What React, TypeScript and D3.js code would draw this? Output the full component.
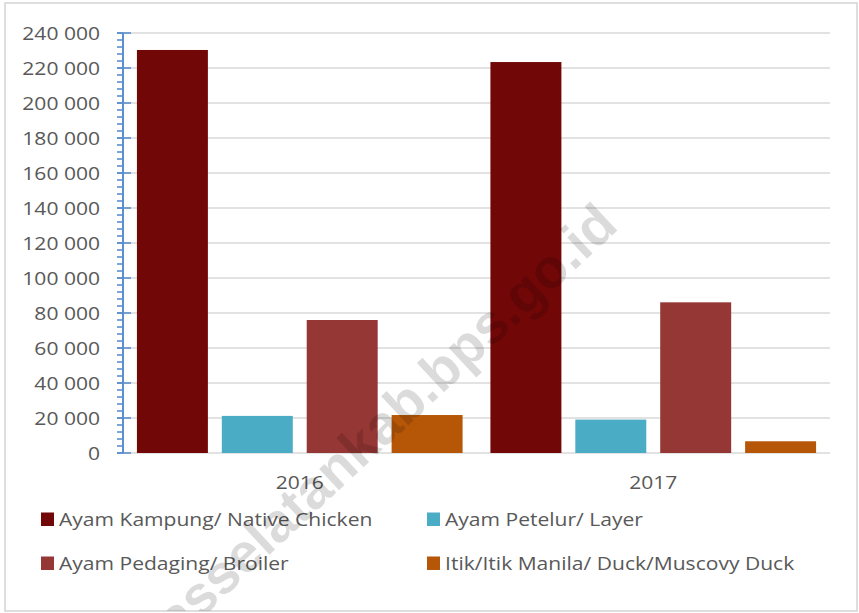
import React from "react";
import * as d3 from "d3";

const years = ["2016", "2017"];
const seriesNames = [
  "Ayam Kampung/ Native Chicken",
  "Ayam Petelur/ Layer",
  "Ayam Pedaging/ Broiler",
  "Itik/Itik Manila/ Duck/Muscovy Duck",
];
const kampung = [230300, 223400];
const petelur = [21200, 19100];
const pedaging = [76000, 86100];
const itik = [21700, 6700];
const seriesColors = ["#720707", "#4BACC6", "#953735", "#B65708"];
const yTickValues = [0, 20000, 40000, 60000, 80000, 100000, 120000, 140000, 160000, 180000, 200000, 220000, 240000];
const watermark = "https://niasselatankab.bps.go.id";

const W = 859;
const H = 613;
const FONT = "'Open Sans', sans-serif";
const FS = 18;
const SX = 1.17;

export default function App() {
  const seriesValues = [kampung, petelur, pedaging, itik];
  const plot = { left: 123, right: 830, top: 33, bottom: 453 };
  const y = d3.scaleLinear().domain([0, 240000]).range([plot.bottom, plot.top]);
  const x0 = d3.scaleBand<string>().domain(years).range([plot.left, plot.right]).padding(0);
  const x1 = d3
    .scaleBand<number>()
    .domain(d3.range(seriesNames.length))
    .range([0, x0.bandwidth()])
    .padding(0.164);
  const loc = d3.formatLocale({ decimal: ",", thousands: " ", grouping: [3], currency: ["", ""] });
  const fmt = loc.format(",");
  const minorTicks = d3.range(0, 240001, 4000);

  const T = (p: { x: number; y: number; anchor?: string; children: React.ReactNode; key?: any }) => (
    <text
      transform={`translate(${p.x},${p.y}) scale(${SX},1)`}
      textAnchor={p.anchor || "start"}
      fontFamily={FONT}
      fontSize={FS}
      fill="#595959"
    >
      {p.children}
    </text>
  );

  const legendPos = [
    { sx: 41, tx: 59, y: 526 },
    { sx: 427, tx: 445, y: 526 },
    { sx: 41, tx: 59, y: 570 },
    { sx: 427, tx: 445, y: 570 },
  ];

  return (
    <svg
      width={W}
      height={H}
      style={{ position: "absolute", left: 0, top: 0, background: "#fff" }}
    >
      <defs>
        <clipPath id="chartClip">
          <rect x={5} y={3} width={852} height={608} />
        </clipPath>
      </defs>
      <rect x={0} y={0} width={W} height={H} fill="#fff" />
      <rect x={5} y={3} width={852} height={608} fill="#fff" stroke="#D4D4D4" strokeWidth={1.5} />

      {/* gridlines */}
      {yTickValues.map((v) => (
        <line key={"g" + v} x1={plot.left} x2={plot.right} y1={y(v)} y2={y(v)} stroke="#D9D9D9" strokeWidth={1.6} />
      ))}

      {/* bars */}
      {years.map((yr, i) => (
        <g key={yr} transform={`translate(${x0(yr)},0)`}>
          {seriesValues.map((vals, s) => (
            <rect
              key={s}
              x={x1(s)}
              y={y(vals[i])}
              width={x1.bandwidth()}
              height={y(0) - y(vals[i])}
              fill={seriesColors[s]}
            />
          ))}
        </g>
      ))}

      {/* y axis */}
      <line x1={plot.left} x2={plot.left} y1={y(240000)} y2={y(0)} stroke="#5B8FD0" strokeWidth={2} />
      {minorTicks.map((v) => (
        <line key={"m" + v} x1={117} x2={plot.left} y1={y(v)} y2={y(v)} stroke="#5B8FD0" strokeWidth={1.6} />
      ))}
      {yTickValues.map((v) => (
        <line key={"t" + v} x1={117} x2={131} y1={y(v)} y2={y(v)} stroke="#5B8FD0" strokeWidth={1.6} />
      ))}
      {yTickValues.map((v) => (
        <T key={"l" + v} x={100} y={y(v) + 6.5} anchor="end">
          {fmt(v)}
        </T>
      ))}

      {/* category labels */}
      {years.map((yr) => (
        <T key={"c" + yr} x={(x0(yr) as number) + x0.bandwidth() / 2} y={489} anchor="middle">
          {yr}
        </T>
      ))}

      {/* legend */}
      {seriesNames.map((name, s) => (
        <g key={"lg" + s}>
          <rect x={legendPos[s].sx} y={legendPos[s].y - 13.5} width={13} height={13.5} fill={seriesColors[s]} />
          <T x={legendPos[s].tx} y={legendPos[s].y}>{name}</T>
        </g>
      ))}

      {/* watermark */}
      <g clipPath="url(#chartClip)">
        <text
          transform="translate(620,228) rotate(-43)"
          textAnchor="end"
          fontFamily="'Liberation Sans', Arial, sans-serif"
          fontWeight="bold"
          fontSize={55}
          fill="#000"
          fillOpacity={0.14}
        >
          {watermark}
        </text>
      </g>
    </svg>
  );
}
